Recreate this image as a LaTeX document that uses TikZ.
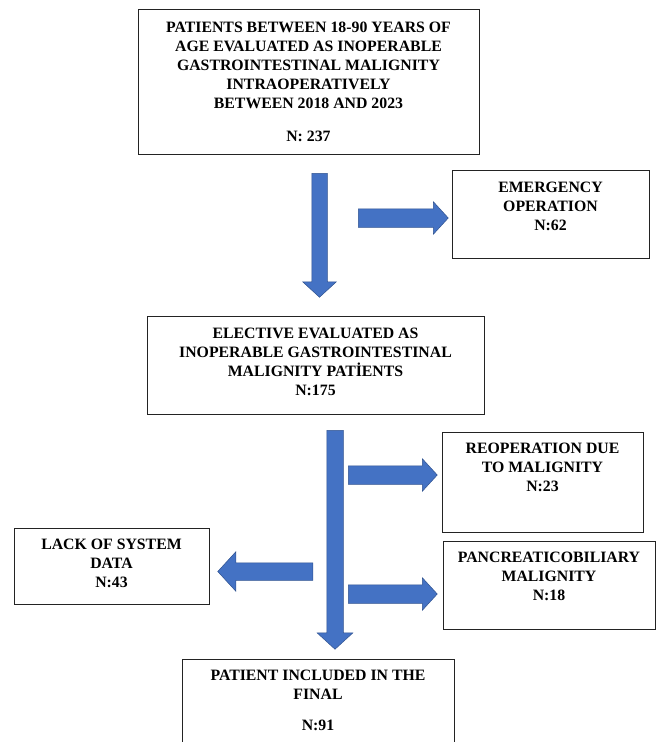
\documentclass[tikz,border=0pt]{standalone}
\usepackage{fontspec}
\setmainfont{Liberation Serif}
\usetikzlibrary{shapes.arrows}
\definecolor{flowFill}{RGB}{68,114,196}
\definecolor{flowBrd}{RGB}{47,82,143}
\definecolor{boxBrd}{RGB}{35,35,35}
\tikzset{
  every node/.style={font=\fontsize{15.8}{19}\selectfont\bfseries},
  BOX/.style={draw=boxBrd, line width=1pt, inner sep=0pt},
  TXT/.style={align=center, inner sep=0pt, anchor=north},
  FLOW/.style={single arrow, fill=flowFill, draw=flowBrd, line width=0.5pt,
    single arrow tip angle=95, anchor=tail},
}

\begin{document}
\begin{tikzpicture}[x=1pt, y=1pt, yscale=-1]

\useasboundingbox (0,0) rectangle (661,742);

%% ═══════════════════════════════════════════════════════════════════════════
%%  Boxes
%% ═══════════════════════════════════════════════════════════════════════════

\node[BOX, minimum width=341pt, minimum height=145pt] (ALL) at (308.5,81.5) {};
\node[TXT] (ALLt) at (308.5,22)
  {PATIENTS BETWEEN 18-90 YEARS OF\\AGE EVALUATED AS INOPERABLE\\GASTROINTESTINAL MALIGNITY\\INTRAOPERATIVELY\\BETWEEN 2018 AND 2023\\[14pt]N: 237};

\node[BOX, minimum width=197pt, minimum height=88pt] (EMG) at (550.5,214) {};
\node[TXT] (EMGt) at (550.5,182) {EMERGENCY\\OPERATION\\N:62};

\node[BOX, minimum width=337pt, minimum height=98pt] (ELE) at (315.5,365) {};
\node[TXT] (ELEt) at (315.5,328)
  {ELECTIVE EVALUATED AS\\INOPERABLE GASTROINTESTINAL\\MALIGNITY PATİENTS\\N:175};

\node[BOX, minimum width=201pt, minimum height=100pt] (REOP) at (542.5,482) {};
\node[TXT] (REOPt) at (542.5,443) {REOPERATION DUE\\TO MALIGNITY\\N:23};

\node[BOX, minimum width=212pt, minimum height=88pt] (PAN) at (549,585) {};
\node[TXT] (PANt) at (549,552) {PANCREATICOBILIARY\\MALIGNITY\\N:18};

\node[BOX, minimum width=195pt, minimum height=76pt] (LACK) at (111.5,566) {};
\node[TXT] (LACKt) at (111.5,539) {LACK OF SYSTEM\\DATA\\N:43};

\node[BOX, minimum width=272pt, minimum height=101pt] (FIN) at (318,709.5) {};
\node[TXT] (FINt) at (318,670) {PATIENT INCLUDED IN THE\\FINAL\\[12pt]N:91};

%% ═══════════════════════════════════════════════════════════════════════════
%%  Block arrows
%% ═══════════════════════════════════════════════════════════════════════════

\node[FLOW, inner sep=7.5pt, single arrow head extend=9pt, minimum height=124pt,
  shape border rotate=270] (A1) at (319.5,173) {};
\node[FLOW, inner sep=9pt, single arrow head extend=7pt, minimum height=90pt]
  (A2) at (358,218) {};
\node[FLOW, inner sep=8pt, single arrow head extend=9.5pt, minimum height=219pt,
  shape border rotate=270] (A3) at (335,430) {};
\node[FLOW, inner sep=9pt, single arrow head extend=7pt, minimum height=89pt]
  (A4) at (348,475) {};
\node[FLOW, inner sep=9pt, single arrow head extend=7pt, minimum height=89pt]
  (A5) at (348,594) {};
\node[FLOW, inner sep=8.5pt, single arrow head extend=11pt, minimum height=95pt,
  shape border rotate=180] (A6) at (313,571.5) {};

\end{tikzpicture}
\end{document}
